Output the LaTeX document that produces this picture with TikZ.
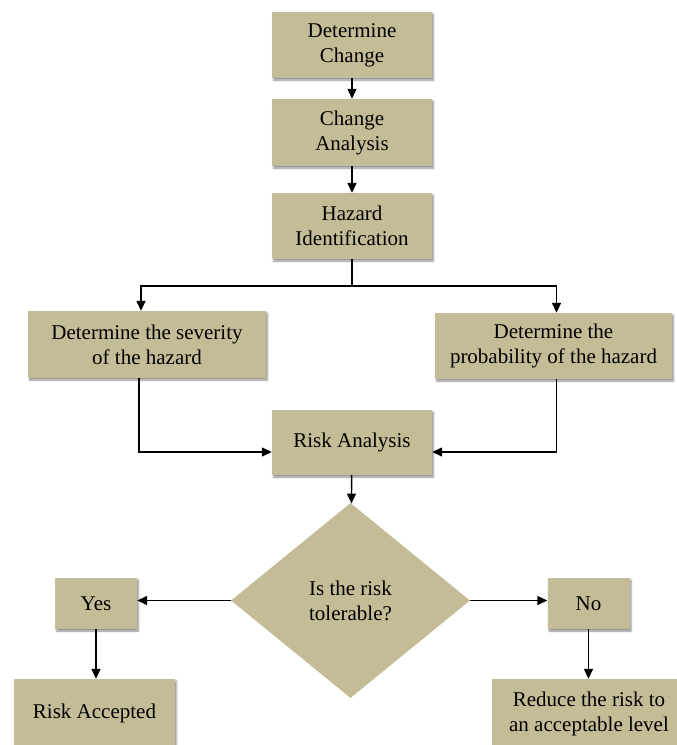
\documentclass[tikz,border=0pt]{standalone}
\usepackage{fontspec}
\setmainfont{Liberation Serif}
\usetikzlibrary{shapes.geometric,arrows.meta,shadows.blur}
\definecolor{boxtan}{HTML}{C4BC96}
\begin{document}
\begin{tikzpicture}[x=1pt,y=-1pt,
  box/.style={fill=boxtan, draw=none, align=center, inner sep=0pt,
    font=\fontsize{21}{25}\selectfont,
    blur shadow={shadow xshift=1.5pt, shadow yshift=-2pt, shadow blur steps=4, shadow opacity=45}},
  decision/.style={diamond, fill=boxtan, draw=none, align=center, inner sep=0pt,
    font=\fontsize{21}{25}\selectfont},
  conn/.style={line width=1.4pt, -{Triangle[length=10pt,width=9pt]}},
  plain/.style={line width=1.4pt}]
\useasboundingbox (0,0) rectangle (677,745);
\clip (0,0) rectangle (677,745);

\node[box, minimum width=160pt, minimum height=66pt] (dc) at (352,45) {Determine\\Change};
\node[box, minimum width=160pt, minimum height=67pt] (ca) at (352,132.5) {Change\\Analysis};
\node[box, minimum width=160pt, minimum height=66pt] (hi) at (352,226) {Hazard\\Identification};
\node[box, minimum width=238pt, minimum height=67pt] (sev) at (147,344.5) {Determine the severity\\of the hazard};
\node[box, minimum width=237pt, minimum height=66pt] (prob) at (553.5,346) {Determine the\\probability of the hazard};
\node[box, minimum width=160pt, minimum height=65pt] (ra) at (352,442.5) {Risk Analysis};
\node[decision, minimum width=239pt, minimum height=195pt] (dia) at (350.5,600.5) {Is the risk\\tolerable?};
\node[box, minimum width=82pt, minimum height=51pt] (yes) at (96,603.5) {Yes};
\node[box, minimum width=82pt, minimum height=51pt] (no) at (588.5,603.5) {No};
\node[box, minimum width=161pt, minimum height=69pt] (acc) at (94.5,713.5) {Risk Accepted};
\node[box, minimum width=194pt, minimum height=69pt] (red) at (589,713.5) {Reduce the risk to\\an acceptable level};

\coordinate (split) at (352,286);
\draw[conn] (dc) -- (ca);
\draw[conn] (ca) -- (hi);
\draw[plain] (hi) -- (split);
\draw[conn] (split) -| ([xshift=-6pt]sev.north);
\draw[conn] (split) -| ([xshift=3pt]prob.north);
\draw[conn] ([xshift=-8pt]sev.south) |- ([yshift=-9.5pt]ra.west);
\draw[conn] ([xshift=3pt]prob.south) |- ([yshift=-9.5pt]ra.east);
\draw[conn] (ra) -- (dia);
\draw[conn] (dia.west) -- (dia.west -| yes.east);
\draw[conn] (dia.east) -- (dia.east -| no.west);
\draw[conn] (yes) -- (yes.south |- acc.north);
\draw[conn] (no) -- (no.south |- red.north);
\end{tikzpicture}
\end{document}
